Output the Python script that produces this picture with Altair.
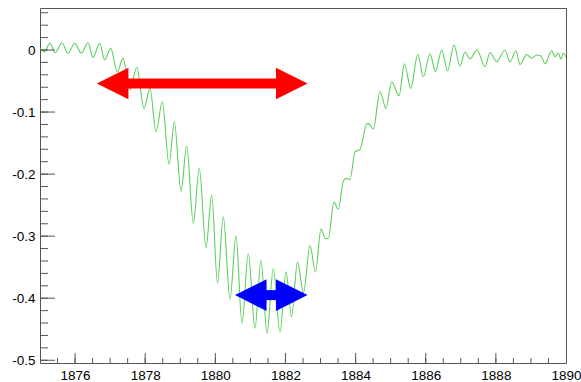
import altair as alt
import pandas as pd

# ---- data ----
years = [1875.000, 1875.134, 1875.277, 1875.436, 1875.627, 1875.798, 1875.990, 1876.178,
         1876.369, 1876.511, 1876.702, 1876.845, 1877.016, 1877.204, 1877.367, 1877.566,
         1877.758, 1877.966, 1878.137, 1878.308, 1878.488, 1878.679, 1878.830, 1879.021,
         1879.183, 1879.372, 1879.543, 1879.734, 1879.896, 1880.062, 1880.227, 1880.418,
         1880.589, 1880.760, 1880.940, 1881.131, 1881.302, 1881.473, 1881.653, 1881.844,
         1882.015, 1882.172, 1882.343, 1882.514, 1882.700, 1882.856, 1883.013, 1883.142,
         1883.221, 1883.384, 1883.507, 1883.649, 1883.726, 1883.840, 1883.983, 1884.125,
         1884.316, 1884.362, 1884.505, 1884.696, 1884.867, 1885.029, 1885.238, 1885.394,
         1885.571, 1885.774, 1885.931, 1886.122, 1886.278, 1886.455, 1886.621, 1886.806,
         1886.977, 1887.120, 1887.262, 1887.462, 1887.690, 1887.833, 1888.024, 1888.260,
         1888.403, 1888.574, 1888.688, 1888.879, 1889.022, 1889.164, 1889.287, 1889.401,
         1889.592, 1889.686, 1889.780, 1889.857, 1889.923, 1890.000]
values = [0.0024, -0.0027, 0.0108, -0.0044, 0.0118, -0.0053, 0.0108, -0.0053,
          0.0118, -0.0118, 0.0108, -0.0161, 0.0027, -0.0350, -0.0134, -0.0645,
          -0.0279, -0.0940, -0.0618, -0.1318, -0.0834, -0.1839, -0.1156, -0.2274,
          -0.1548, -0.2795, -0.1908, -0.3185, -0.2339, -0.3758, -0.2689, -0.4016,
          -0.3000, -0.4403, -0.3279, -0.4484, -0.3387, -0.4565, -0.3521, -0.4544,
          -0.3576, -0.4298, -0.3419, -0.3911, -0.3153, -0.3576, -0.2887, -0.3037,
          -0.3037, -0.2452, -0.2565, -0.2113, -0.2069, -0.2085, -0.1640, -0.1602,
          -0.1194, -0.1182, -0.1274, -0.0673, -0.0940, -0.0511, -0.0737, -0.0221,
          -0.0618, -0.0073, -0.0431, -0.0060, -0.0350, 0.0000, -0.0339, 0.0081,
          -0.0258, -0.0032, -0.0145, 0.0005, -0.0269, -0.0040, -0.0189, -0.0005,
          -0.0194, -0.0011, -0.0234, -0.0073, -0.0134, -0.0081, -0.0097, -0.0221,
          -0.0011, -0.0108, -0.0048, -0.0150, -0.0048, -0.0121]

# arrows (tip positions)
red_arrow_x = [1876.62, 1882.63]
red_arrow_y = -0.054
blue_arrow_x = [1880.56, 1882.63]
blue_arrow_y = -0.395

# axis ticks / labels
x_labels = [1876, 1878, 1880, 1882, 1884, 1886, 1888, 1890]
x_major = [1876, 1878, 1880, 1882, 1884, 1886, 1888]
x_minor = [1875 + 0.5 * i for i in range(1, 30)]
y_labels = [-0.5, -0.4, -0.3, -0.2, -0.1, 0.0]
y_minor = [round(-0.5 + 0.02 * i, 2) for i in range(0, 29)]

X_DOM = [1875, 1890]
Y_DOM = [-0.5044, 0.0677]
W, H = 526, 355
FONT = "Liberation Sans"

xs = alt.Scale(domain=X_DOM, nice=False, zero=False)
ys = alt.Scale(domain=Y_DOM, nice=False, zero=False)

df = pd.DataFrame({"year": years, "value": values})

line = alt.Chart(df).mark_line(color="#5ccf5c", strokeWidth=1.1, interpolate="monotone").encode(
    x=alt.X("year:Q", scale=xs, title=None,
            axis=alt.Axis(values=x_labels, format="d")),
    y=alt.Y("value:Q", scale=ys, title=None,
            axis=alt.Axis(values=y_labels,
                          labelExpr="datum.value == 0 ? '0' : '-' + format(abs(datum.value), '.1f')")),
)

def ticks_y(vals, length):
    return alt.Chart(pd.DataFrame({"v": vals})).mark_rule(color="#555", strokeWidth=1).encode(
        y=alt.Y("v:Q", scale=ys, title=None), x=alt.value(0), x2=alt.value(length))

def ticks_x(vals, length):
    return alt.Chart(pd.DataFrame({"t": vals})).mark_rule(color="#555", strokeWidth=1).encode(
        x=alt.X("t:Q", scale=xs, title=None), y=alt.value(H), y2=alt.value(H - length))

def arrow(xvals, yval, color):
    d = pd.DataFrame({"x1": [xvals[0]], "x2": [xvals[1]], "y": [yval]})
    base = alt.Chart(d)
    shaft = base.mark_rule(color=color, strokeWidth=10, xOffset=29, x2Offset=-29).encode(
        x=alt.X("x1:Q", scale=xs, title=None), x2="x2:Q",
        y=alt.Y("y:Q", scale=ys, title=None))
    left = base.mark_point(shape="M-1,0L1,-1L1,1Z", size=1000, filled=True, opacity=1,
                           color=color, strokeWidth=0, xOffset=15.8).encode(
        x=alt.X("x1:Q", scale=xs, title=None), y=alt.Y("y:Q", scale=ys, title=None))
    right = base.mark_point(shape="M1,0L-1,-1L-1,1Z", size=1000, filled=True, opacity=1,
                            color=color, strokeWidth=0, xOffset=-15.8).encode(
        x=alt.X("x2:Q", scale=xs, title=None), y=alt.Y("y:Q", scale=ys, title=None))
    return [shaft, left, right]

layers = [line,
          ticks_y(y_minor, 8), ticks_y(y_labels, 15),
          ticks_x(x_minor, 5), ticks_x(x_major, 10)]
layers += arrow(red_arrow_x, red_arrow_y, "#ff0000")
layers += arrow(blue_arrow_x, blue_arrow_y, "#0000ff")

chart = alt.layer(*layers).properties(
    width=W, height=H,
    autosize=alt.AutoSizeParams(type="none"),
    padding={"left": 40, "top": 8, "right": 15, "bottom": 19},
    background="white",
).configure_view(stroke="#555", strokeWidth=1).configure_axis(
    grid=False, ticks=False, tickSize=0, domain=False, labelPadding=5,
    labelFontSize=13.5, labelFont=FONT, labelColor="black",
    labelFlush=False, labelOverlap=False, title=None,
)

chart.save("out.html", embed_options={"renderer": "svg", "actions": False})
